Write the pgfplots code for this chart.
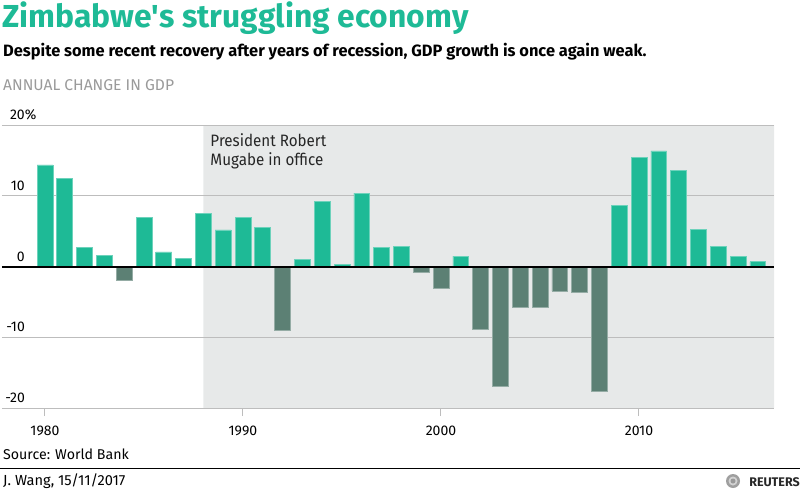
\documentclass[border=0pt]{standalone}
\usepackage{fontspec}
\setmainfont{Fira Sans}
\newfontfamily\narrowfont{Fira Sans}[FakeStretch=0.92]
\usepackage{pgfplots}
\pgfplotsset{compat=1.18}
\definecolor{pos}{HTML}{1EBA96}
\definecolor{neg}{HTML}{5C8074}
\definecolor{shade}{HTML}{E7E9E9}
\definecolor{gridc}{HTML}{BDBDBD}
\definecolor{subgray}{HTML}{9A9A9A}
\begin{document}
\begin{tikzpicture}
\path[use as bounding box] (0,0) rectangle (800bp,-492bp);
% titles
\node[anchor=base west, inner sep=0pt, text=pos, font=\fontsize{31.8bp}{34bp}\selectfont\bfseries] at (2bp,-27.5bp) {Zimbabwe\textquotesingle s struggling economy};
\node[anchor=base west, inner sep=0pt, text=black, font=\fontsize{16.4bp}{18bp}\selectfont\bfseries] at (3bp,-56bp) {Despite some recent recovery after years of recession, GDP growth is once again weak.};
\node[anchor=base west, inner sep=0pt, text=subgray, font=\fontsize{15.6bp}{18bp}\selectfont] at (3bp,-90.7bp) {ANNUAL CHANGE IN GDP};
% footer
\node[anchor=base west, inner sep=0pt, text=black, font=\fontsize{14.2bp}{16bp}\selectfont] at (3bp,-459.3bp) {Source: World Bank};
\draw[black, line width=1.5bp] (0bp,-468.3bp) -- (800bp,-468.3bp);
\node[anchor=base west, inner sep=0pt, text=black, font=\fontsize{14.6bp}{17bp}\selectfont] at (3bp,-485.3bp) {J. Wang,\ 15/11/2017};
\node[anchor=base east, inner sep=0pt, text=black!85, font=\fontsize{12.5bp}{14bp}\selectfont\bfseries] at (800bp,-486.5bp) {REUTERS};
\fill[gray!75] (733bp,-481bp) circle (7bp);
\fill[gray!35] (733bp,-481bp) circle (4.5bp);
\fill[gray!80] (733bp,-481bp) circle (2.5bp);
\begin{axis}[
  at={(2bp,-408bp)}, anchor=south west,
  scale only axis, width=772bp, height=283bp,
  xmin=1977.83, xmax=2016.82, ymin=-20, ymax=20,
  axis line style={draw=none},
  ytick={-20,-10,0,10,20},
  yticklabels={-20,-10,0,10,20\rlap{\%}},
  xtick={1980,1990,2000,2010},
  xticklabels={1980,1990,2000,2010},
  tick align=outside,
  xtick pos=lower,
  ytick pos=left,
  major tick length=8bp,
  x tick style={gridc, line width=1bp},
  y tick style={draw=none},
  /pgf/number format/assume math mode=true,
  xticklabel style={font=\fontsize{14bp}{16bp}\selectfont, anchor=base, inner sep=0pt, yshift=-19.7bp},
  yticklabel style={font=\fontsize{14bp}{16bp}\selectfont, anchor=base east, inner sep=0pt, xshift=31bp, yshift=5.5bp},
  clip=false,
]
\addplot[fill=shade, draw=none] coordinates {(1988,-20) (1988,20) (2016.82,20) (2016.82,-20) (1988,-20)};
\addplot[gridc, line width=1bp] coordinates {(1977.83,20) (2016.82,20)};
\addplot[gridc, line width=1bp] coordinates {(1977.83,10) (2016.82,10)};
\addplot[gridc, line width=1bp] coordinates {(1977.83,-10) (2016.82,-10)};
\addplot[gridc, line width=1bp] coordinates {(1977.83,-20) (2016.82,-20)};
\addplot[ybar, bar width=0.8, bar shift=0pt, fill=pos, draw=pos!65!white, line width=0.7bp] coordinates {
(1980,14.36) (1981,12.48) (1982,2.64) (1983,1.55) (1985,6.92) (1986,2.07) (1987,1.13) (1988,7.53) (1989,5.18) (1990,6.97) (1991,5.56) (1993,1.04) (1994,9.23) (1995,0.24) (1996,10.36) (1997,2.64) (1998,2.87) (2001,1.46) (2009,8.66) (2010,15.4) (2011,16.34) (2012,13.56) (2013,5.27) (2014,2.78) (2015,1.46) (2016,0.66)
};
\addplot[ybar, bar width=0.8, bar shift=0pt, fill=neg, draw=neg!65!white, line width=0.7bp] coordinates {
(1984,-1.98) (1992,-9.04) (1999,-0.85) (2000,-3.1) (2002,-8.9) (2003,-17.0) (2004,-5.84) (2005,-5.74) (2006,-3.48) (2007,-3.67) (2008,-17.66)
};
\addplot[black, line width=2bp] coordinates {(1977.83,0) (2016.82,0)};
\node[anchor=base west, inner sep=0pt, align=left, text=black!85, font=\narrowfont\fontsize{16.5bp}{19bp}\selectfont] at (axis cs:1988.35,14.27) {President Robert\\Mugabe in office};
\end{axis}
\end{tikzpicture}
\end{document}
